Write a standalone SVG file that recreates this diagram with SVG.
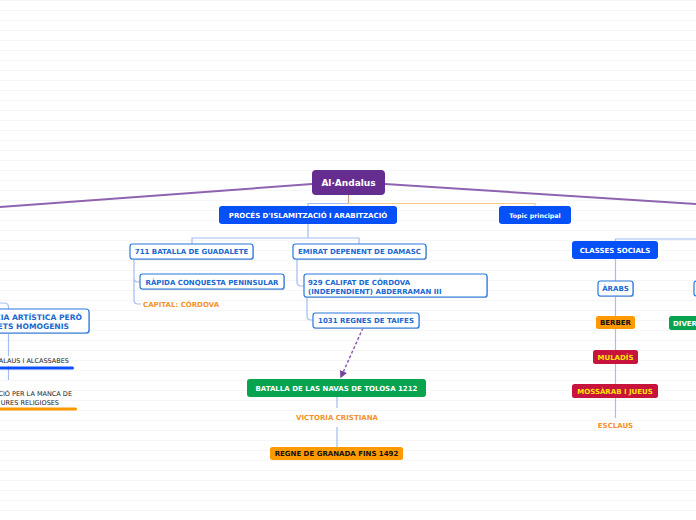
<svg xmlns="http://www.w3.org/2000/svg" width="696" height="520" viewBox="0 0 696 520">
<defs>
<pattern id="bg" width="696" height="10" patternUnits="userSpaceOnUse">
<rect width="696" height="10" fill="#ffffff"/>
<rect y="0" width="696" height="1" fill="#f5f5f5"/>
</pattern>
<marker id="arr" viewBox="0 0 10 10" refX="8" refY="5" markerWidth="5" markerHeight="5" orient="auto">
<path d="M0,0 L10,5 L0,10 z" fill="#7a3fa0"/>
</marker>
<style>
text{font-family:"DejaVu Sans","Liberation Sans",sans-serif;font-weight:bold;font-size:7px}
.c{text-anchor:middle}
.e{text-anchor:end}
.w{fill:#ffffff}
.bt{fill:#1a68d0}
.ot{fill:#f5922a}
.k{fill:#111111}
.y{fill:#ffe600}
.blue{fill:#0650f8}
.green{fill:#07a34f}
.orange{fill:#ff9900}
.red{fill:#c8143c}
.wb{fill:#ffffff;stroke:#2a78de;stroke-width:1.2}
.sh{fill:#b8c4d8}
.lb{fill:none;stroke:#a3bdf5;stroke-width:1.2}
.lo{fill:none;stroke:#f5c98a;stroke-width:1.2}
.pl{fill:none;stroke:#8e63b0;stroke-width:2}
.n{font-weight:normal;fill:#222222;font-size:6.5px}
</style>
</defs>
<rect width="696" height="520" fill="url(#bg)"/>

<g id="connectors">
<path class="pl" d="M312,184 L0,207"/>
<path class="pl" d="M385,184 L696,204"/>
<path d="M348.5,195 V203.5" fill="none" stroke="#c9a27a" stroke-width="1.2"/>
<path class="lb" d="M348.5,203.5 H308 V206"/>
<path class="lo" d="M348.5,203.5 H535 V206"/>
<path class="lb" d="M308,224 V238 M192,244 V238 H359 V244"/>
<path class="lb" d="M134,259 V300 Q134,304 138,304 H141 M134,278 Q134,282 138,282 H140"/>
<path class="lb" d="M297,259 V282 Q297,286 301,286 H304"/>
<path class="lb" d="M307,297 V316 Q307,320 311,320 H313"/>
<path d="M363,328 L341,377" fill="none" stroke="#8e5fb0" stroke-width="1.5" stroke-dasharray="3,2" marker-end="url(#arr)"/>
<path class="lb" d="M337,397 V408 M337,427 V447"/>
<path class="lb" d="M615.5,241 V239 H696"/>
<path class="lb" d="M615.5,259 V281 M615.5,296 V316 M615.5,329 V350 M615.5,364 V384 M615.5,398 V418"/>
<path class="lb" d="M0,303 H4 Q8.5,303 8.5,307 V309 M8.5,333 V356 M8.5,366 V380"/>
</g>

<g id="al-andalus">
<rect x="312" y="170" width="73" height="25" rx="4" fill="#662d91"/>
<text class="c w" x="348.5" y="186" style="font-size:9px">Al·Andalus</text>
</g>

<g id="proces">
<rect class="blue" x="219" y="206" width="178" height="18" rx="3"/>
<text class="c w" x="308" y="217.5">PROCÉS D'ISLAMITZACIÓ I ARABITZACIÓ</text>
</g>

<g id="topic-principal">
<rect class="blue" x="499" y="206" width="72" height="18" rx="3"/>
<text class="c w" x="535" y="217.5" style="font-size:6.3px">Topic principal</text>
</g>

<g id="guadalete">
<rect class="sh" x="131" y="245" width="123" height="15" rx="2.5"/>
<rect class="wb" x="130" y="244" width="123" height="15" rx="2.5"/>
<text class="c bt" x="191.5" y="254.3">711 BATALLA DE GUADALETE</text>
</g>

<g id="emirat">
<rect class="sh" x="294" y="245" width="133" height="15" rx="2.5"/>
<rect class="wb" x="293" y="244" width="133" height="15" rx="2.5"/>
<text class="c bt" x="359.5" y="254.3">EMIRAT DEPENENT DE DAMASC</text>
</g>

<g id="rapida">
<rect class="sh" x="141" y="275" width="144" height="15" rx="2.5"/>
<rect class="wb" x="140" y="274" width="144" height="15" rx="2.5"/>
<text class="c bt" x="212" y="284.5">RÀPIDA CONQUESTA PENINSULAR</text>
</g>

<g id="capital">
<text class="ot" x="143" y="307">CAPITAL: CÓRDOVA</text>
</g>

<g id="califat">
<rect class="sh" x="305" y="275" width="183" height="23" rx="2.5"/>
<rect class="wb" x="304" y="274" width="183" height="23" rx="2.5"/>
<text class="bt" x="308" y="285.3">929 CALIFAT DE CÓRDOVA</text>
<text class="bt" x="308" y="293.8">(INDEPENDIENT) ABDERRAMAN III</text>
</g>

<g id="taifes">
<rect class="sh" x="314" y="314" width="106" height="15" rx="2.5"/>
<rect class="wb" x="313" y="313" width="106" height="15" rx="2.5"/>
<text class="c bt" x="366" y="323.3">1031 REGNES DE TAIFES</text>
</g>

<g id="navas">
<rect class="green" x="247" y="379" width="179" height="18" rx="3"/>
<text class="c w" x="336.5" y="390.8">BATALLA DE LAS NAVAS DE TOLOSA 1212</text>
</g>

<g id="victoria">
<text class="c ot" x="337" y="420">VICTORIA CRISTIANA</text>
</g>

<g id="granada">
<rect class="orange" x="270" y="447" width="133" height="13" rx="2.5"/>
<text class="c k" x="336.5" y="456.3">REGNE DE GRANADA FINS 1492</text>
</g>

<g id="classes">
<rect class="blue" x="572" y="241" width="86" height="18" rx="3"/>
<text class="c w" x="615" y="252.8">CLASSES SOCIALS</text>
</g>

<g id="arabs">
<rect class="sh" x="599" y="282" width="35" height="15" rx="2.5"/>
<rect class="wb" x="598" y="281" width="35" height="15" rx="2.5"/>
<text class="c bt" x="615.5" y="291.3">ÀRABS</text>
</g>

<g id="berber">
<rect class="orange" x="596" y="316" width="39" height="13" rx="2.5"/>
<text class="c k" x="615.5" y="325.3">BERBER</text>
</g>

<g id="muladis">
<rect class="red" x="593" y="350" width="45" height="14" rx="2.5"/>
<text class="c y" x="615.5" y="359.8">MULADÍS</text>
</g>

<g id="mossarab">
<rect class="red" x="572" y="384" width="86" height="14" rx="2.5"/>
<text class="c y" x="615" y="393.8">MOSSÀRAB I JUEUS</text>
</g>

<g id="esclaus">
<text class="c ot" x="615.5" y="428">ESCLAUS</text>
</g>

<g id="right-edge-box">
<rect class="wb" x="694" y="281" width="20" height="15" rx="2.5"/>
</g>

<g id="diver">
<rect class="green" x="669" y="316" width="40" height="14" rx="2.5"/>
<text class="w" x="673" y="325.5">DIVER</text>
</g>

<g id="left-box">
<rect class="sh" x="-19" y="310" width="109" height="24" rx="3"/>
<rect class="wb" x="-20" y="309" width="109" height="24" rx="3"/>
<text class="e bt" x="82" y="320" style="font-size:7.6px">CIA ARTÍSTICA PERÒ</text>
<text class="e bt" x="69" y="328.5" style="font-size:7.6px">RETS HOMOGENIS</text>
</g>

<g id="left-alcassabes">
<text class="e n" x="69" y="363">ALAUS I ALCASSABES</text>
<rect x="-2" y="366.5" width="76" height="3" rx="1.5" fill="#0b4fff"/>
</g>

<g id="left-religioses">
<text class="e n" x="72" y="396">CIÓ PER LA MANCA DE</text>
<text class="e n" x="59" y="404.5">URES RELIGIOSES</text>
<rect x="-2" y="407.5" width="79" height="3" rx="1.5" fill="#ff9900"/>
</g>
</svg>
